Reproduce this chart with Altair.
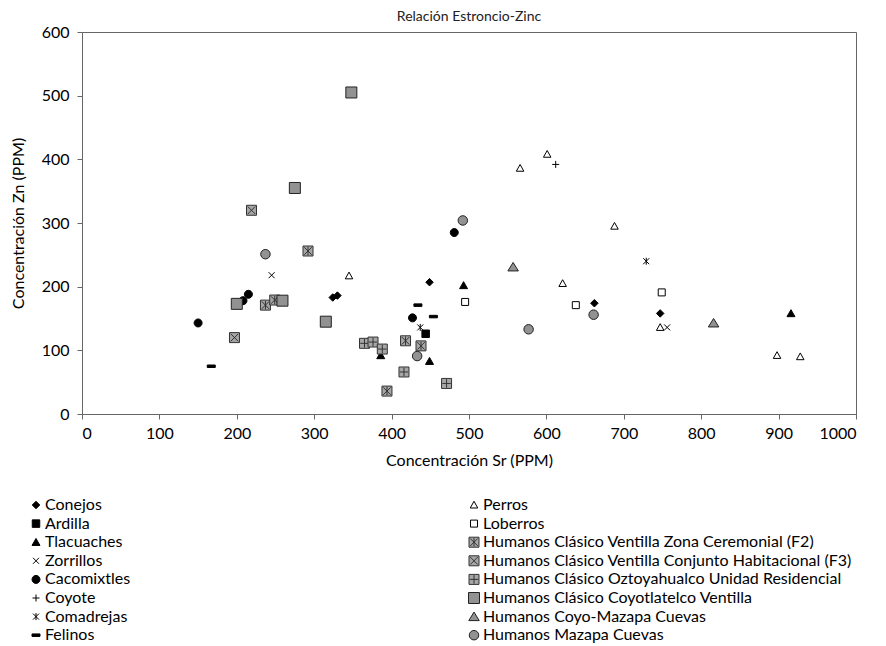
import altair as alt
import pandas as pd

# ---- data (Sr ppm, Zn ppm) ----
conejos_sr = [324, 330, 449, 662, 747]
conejos_zn = [183, 186, 207, 174, 158]
ardilla_sr = [444]
ardilla_zn = [126]
tlacuaches_sr = [493, 386, 449, 916]
tlacuaches_zn = [202, 92, 83, 158]
zorrillos_sr = [245, 756]
zorrillos_zn = [218, 136]
cacomixtles_sr = [150, 208, 215, 427, 481]
cacomixtles_zn = [143, 178, 188, 151, 285]
coyote_sr = [612]
coyote_zn = [392]
comadrejas_sr = [437, 729]
comadrejas_zn = [136, 240]
felinos_sr = [167, 434, 454]
felinos_zn = [75, 171, 153]
perros_sr = [345, 566, 601, 621, 688, 747, 898, 928]
perros_zn = [217, 386, 408, 205, 295, 136, 92, 90]
loberros_sr = [495, 638, 749]
loberros_zn = [176, 171, 191]
f2_sr = [292, 237, 249, 418, 438, 394]
f2_zn = [256, 171, 179, 115, 107, 36]
f3_sr = [219, 197]
f3_zn = [320, 120]
ozto_sr = [365, 376, 388, 416, 471]
ozto_zn = [111, 113, 102, 66, 48]
coyotl_sr = [348, 275, 200, 259, 315]
coyotl_zn = [505, 355, 173, 178, 145]
coyomaz_sr = [557, 816]
coyomaz_zn = [231, 143]
mazapa_sr = [237, 433, 492, 577, 661]
mazapa_zn = [251, 91, 304, 133, 156]

names = [
    "Conejos", "Ardilla", "Tlacuaches", "Zorrillos", "Cacomixtles", "Coyote",
    "Comadrejas", "Felinos", "Perros", "Loberros",
    "Humanos Clásico Ventilla Zona Ceremonial (F2)",
    "Humanos Clásico Ventilla Conjunto Habitacional (F3)",
    "Humanos Clásico Oztoyahualco Unidad Residencial",
    "Humanos Clásico Coyotlatelco Ventilla",
    "Humanos Coyo-Mazapa Cuevas",
    "Humanos Mazapa Cuevas",
]
xs = [conejos_sr, ardilla_sr, tlacuaches_sr, zorrillos_sr, cacomixtles_sr, coyote_sr,
      comadrejas_sr, felinos_sr, perros_sr, loberros_sr, f2_sr, f3_sr, ozto_sr,
      coyotl_sr, coyomaz_sr, mazapa_sr]
ys = [conejos_zn, ardilla_zn, tlacuaches_zn, zorrillos_zn, cacomixtles_zn, coyote_zn,
      comadrejas_zn, felinos_zn, perros_zn, loberros_zn, f2_zn, f3_zn, ozto_zn,
      coyotl_zn, coyomaz_zn, mazapa_zn]

rows = []
for n, sx, sy in zip(names, xs, ys):
    for a, b in zip(sx, sy):
        rows.append({"serie": n, "sr": a, "zn": b})
df = pd.DataFrame(rows)

# ---- marker styles ----
def sq(h):
    return f"M{-h},{-h}L{h},{-h}L{h},{h}L{-h},{h}Z"

def circ(r):
    return f"M{-r},0A{r},{r},0,1,1,{r},0A{r},{r},0,1,1,{-r},0Z"

styles = {
    "Conejos": ("M0,-0.75L0.75,0L0,0.75L-0.75,0Z", "black", "black"),
    "Ardilla": (sq(0.75), "black", "black"),
    "Tlacuaches": ("M0,-0.75L0.8,0.65L-0.8,0.65Z", "black", "black"),
    "Zorrillos": ("M-0.6,-0.6L0.6,0.6M-0.6,0.6L0.6,-0.6", "black", "black"),
    "Cacomixtles": (circ(0.8), "black", "black"),
    "Coyote": ("M-0.7,0L0.7,0M0,-0.7L0,0.7", "black", "black"),
    "Comadrejas": ("M-0.6,-0.6L0.6,0.6M-0.6,0.6L0.6,-0.6M0,-0.7L0,0.7", "black", "black"),
    "Felinos": ("M-0.8,-0.25L0.8,-0.25L0.8,0.25L-0.8,0.25Z", "black", "black"),
    "Perros": ("M0,-0.75L0.75,0.6L-0.75,0.6Z", "white", "black"),
    "Loberros": (sq(0.7), "white", "black"),
    names[10]: (sq(1.0) + "M-0.75,-0.75L0.75,0.75M-0.75,0.75L0.75,-0.75M0,-0.85L0,0.85", "#a6a6a6", "#333333"),
    names[11]: (sq(1.0) + "M-0.75,-0.75L0.75,0.75M-0.75,0.75L0.75,-0.75", "#a6a6a6", "#333333"),
    names[12]: (sq(1.0) + "M-0.85,0L0.85,0M0,-0.85L0,0.85", "#a6a6a6", "#333333"),
    names[13]: (sq(1.1), "#929292", "#222222"),
    names[14]: ("M0,-0.9L1.05,0.8L-1.05,0.8Z", "#929292", "#222222"),
    names[15]: (circ(0.95), "#929292", "#222222"),
}

legend_order = names
shape_range = [styles[n][0] for n in legend_order]
fill_range = [styles[n][1] for n in legend_order]
stroke_range = [styles[n][2] for n in legend_order]

FONT = "Lato"

leg = alt.Legend(
    title=None, orient="none", legendX=-54, legendY=465, columns=2,
    columnPadding=335, rowPadding=2.6, labelFontSize=16, labelFont=FONT,
    labelLimit=600, symbolStrokeWidth=1, padding=0, labelColor="black",
    symbolSize=100, labelOffset=1, direction="vertical",
)

chart = alt.Chart(df).mark_point(
    filled=True, size=100, strokeWidth=1, opacity=1
).encode(
    x=alt.X("sr:Q", scale=alt.Scale(domain=[0, 1000], nice=False),
            axis=alt.Axis(values=list(range(0, 1001, 100)), format="d",
                          title="Concentración Sr (PPM)", labelPadding=6,
                          titlePadding=11)),
    y=alt.Y("zn:Q", scale=alt.Scale(domain=[0, 600], nice=False),
            axis=alt.Axis(values=list(range(0, 601, 100)), format="d",
                          title="Concentración Zn (PPM)", labelPadding=8,
                          titlePadding=15)),
    shape=alt.Shape("serie:N", scale=alt.Scale(domain=legend_order, range=shape_range), legend=leg),
    fill=alt.Fill("serie:N", scale=alt.Scale(domain=legend_order, range=fill_range), legend=leg),
    stroke=alt.Stroke("serie:N", scale=alt.Scale(domain=legend_order, range=stroke_range), legend=leg),
).properties(
    width=774, height=382,
    autosize=alt.AutoSizeParams(type="none"),
    padding={"left": 74, "top": 24, "right": 14, "bottom": 231},
    title=alt.Title("Relación Estroncio-Zinc", fontSize=14, font=FONT,
                    fontWeight="normal", color="#222222", offset=0),
).configure_view(
    stroke="#666666"
).configure_axis(
    domainColor="#666666", tickColor="#666666", labelFont=FONT, titleFont=FONT,
    labelFontSize=16, titleFontSize=16, titleFontWeight="normal",
    labelColor="black", titleColor="black", grid=False, tickSize=5,
)

chart.save("out.html", embed_options={"renderer": "svg", "actions": False})
